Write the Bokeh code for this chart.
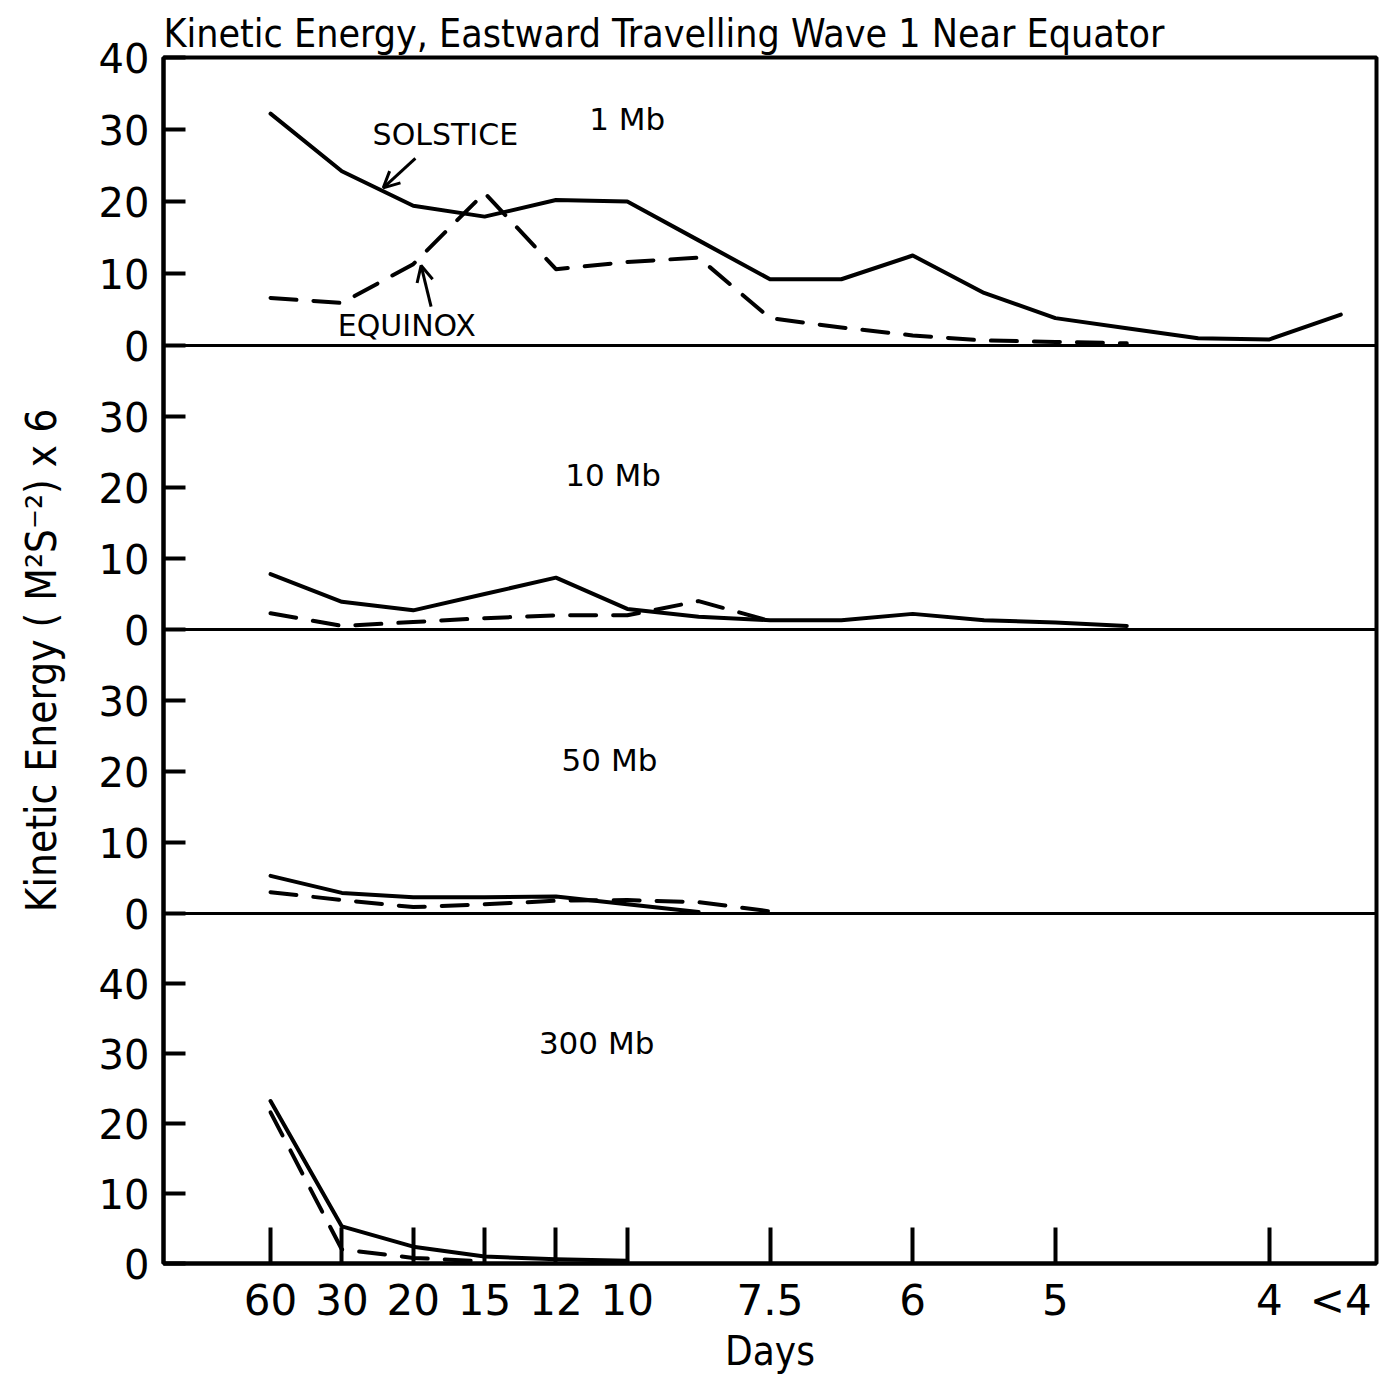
from bokeh.plotting import figure
from bokeh.models import Range1d, LinearAxis, FixedTicker, Span, Label, Arrow, OpenHead, Title
from bokeh.embed import file_html
from bokeh.resources import INLINE

# ---------------- data ----------------
x_ticks = [1, 2, 3, 4, 5, 6, 8, 10, 12, 15, 16]
x_tick_labels = ["60", "30", "20", "15", "12", "10", "7.5", "6", "5", "4", "<4"]
x_tick_marks = [1, 2, 3, 4, 5, 6, 8, 10, 12, 15]

# 1 Mb
x1_sol = list(range(1, 17))
y1_sol = [32.2, 24.2, 19.4, 17.9, 20.2, 20.0, 14.6, 9.2, 9.2, 12.5, 7.3, 3.8, 2.4, 1.0, 0.85, 4.3]
x1_equ = list(range(1, 14))
y1_equ = [6.6, 5.9, 11.3, 21.2, 10.6, 11.6, 12.2, 3.8, 2.5, 1.4, 0.7, 0.5, 0.3]

# 10 Mb
x2_sol = list(range(1, 14))
y2_sol = [7.8, 3.9, 2.7, 5.0, 7.3, 2.9, 1.8, 1.3, 1.3, 2.2, 1.3, 1.0, 0.5]
x2_equ = list(range(1, 9))
y2_equ = [2.3, 0.5, 1.05, 1.6, 2.0, 2.0, 4.0, 1.2]

# 50 Mb
x3_sol = list(range(1, 8))
y3_sol = [5.3, 2.9, 2.3, 2.3, 2.4, 1.3, 0.2]
x3_equ = list(range(1, 9))
y3_equ = [3.0, 1.9, 0.9, 1.3, 1.8, 1.9, 1.6, 0.3]

# 300 Mb
x4_sol = list(range(1, 7))
y4_sol = [23.2, 5.3, 2.4, 1.0, 0.6, 0.4]
x4_equ = list(range(1, 5))
y4_equ = [21.6, 2.0, 0.8, 0.3]

panel_names = ["1 Mb", "10 Mb", "50 Mb", "300 Mb"]
panel_max = [40, 40, 40, 50]
panel_labelled = [[0, 10, 20, 30, 40], [0, 10, 20, 30], [0, 10, 20, 30], [0, 10, 20, 30, 40]]
panel_px = [288, 284, 284, 350]          # frame height of each panel (top to bottom)
panel_label_pos = [(6.0, 31.5), (5.8, 21.8), (5.75, 21.6), (5.57, 31.5)]

series = [
    (x1_sol, y1_sol, x1_equ, y1_equ),
    (x2_sol, y2_sol, x2_equ, y2_equ),
    (x3_sol, y3_sol, x3_equ, y3_equ),
    (x4_sol, y4_sol, x4_equ, y4_equ),
]

# ---------------- layout ----------------
total = sum(panel_px)
bases = []
acc = total
for h in panel_px:
    acc -= h
    bases.append(acc)

TICK_FONT = "DejaVu Sans"
NARROW = "DejaVu Sans Condensed, Liberation Sans Narrow, Liberation Sans"

p = figure(
    x_range=Range1d(-0.5, 16.5), y_range=Range1d(0, total),
    frame_width=1213, frame_height=total,
    min_border_left=163, min_border_right=13, min_border_top=57, min_border_bottom=113,
    toolbar_location=None, output_backend="svg",
    x_axis_type=None, y_axis_type=None,
    background_fill_color="white", border_fill_color="white",
    outline_line_color="black", outline_line_width=4,
)

p.title = Title(text="Kinetic Energy, Eastward Travelling Wave 1 Near Equator",
                align="left", text_font=NARROW, text_font_size="39px",
                text_font_style="normal", text_color="black", standoff=4)

names = []
for k in range(4):
    scale = panel_px[k] / panel_max[k]
    nm = "p%d" % (k + 1)
    names.append(nm)
    p.extra_y_ranges[nm] = Range1d(-bases[k] / scale, (total - bases[k]) / scale)

# y axis: global positions of local tick values
y_pos = []
y_over = {}
for k in range(4):
    scale = panel_px[k] / panel_max[k]
    for v in panel_labelled[k]:
        g = int(round(bases[k] + v * scale))
        if g not in y_over:
            y_pos.append(g)
        y_over[g] = str(v)

yaxis = LinearAxis(
    ticker=FixedTicker(ticks=y_pos, minor_ticks=[]),
    major_label_overrides=y_over,
    major_tick_in=22, major_tick_out=0, major_tick_line_width=4,
    minor_tick_line_color=None,
    axis_line_width=4,
    major_label_standoff=14,
    major_label_text_font=TICK_FONT, major_label_text_font_size="40px",
    major_label_text_color="black",
    axis_label="Kinetic Energy ( M²S⁻²) x 6",
    axis_label_text_font=NARROW, axis_label_text_font_size="42px",
    axis_label_text_font_style="normal", axis_label_text_color="black",
    axis_label_standoff=30,
)
p.add_layout(yaxis, "left")

xaxis = LinearAxis(
    ticker=FixedTicker(ticks=x_ticks, minor_ticks=x_tick_marks),
    major_label_overrides={t: s for t, s in zip(x_ticks, x_tick_labels)},
    major_tick_line_color=None, major_tick_in=0, major_tick_out=0,
    minor_tick_in=36, minor_tick_out=0, minor_tick_line_width=4,
    axis_line_width=4,
    major_label_standoff=12,
    major_label_text_font=TICK_FONT, major_label_text_font_size="42px",
    major_label_text_color="black",
    axis_label="Days",
    axis_label_text_font=NARROW, axis_label_text_font_size="40px",
    axis_label_text_font_style="normal", axis_label_text_color="black",
    axis_label_standoff=0,
)
p.add_layout(xaxis, "below")

# panel separators
for k in range(3):
    p.add_layout(Span(location=0, dimension="width", y_range_name=names[k],
                      line_color="black", line_width=3))

# series
for k in range(4):
    xs, ys, xe, ye = series[k]
    p.line(xs, ys, y_range_name=names[k], line_color="black", line_width=4,
           line_join="round", line_cap="round")
    p.line(xe, ye, y_range_name=names[k], line_color="black", line_width=4,
           line_dash="26 17", line_cap="round", line_join="round")
    lx, ly = panel_label_pos[k]
    p.add_layout(Label(x=lx, y=ly, y_range_name=names[k], text=panel_names[k],
                       text_align="center", text_baseline="middle",
                       text_font=TICK_FONT, text_font_size="31px", text_color="black"))

# annotations in top panel
p.add_layout(Label(x=3.45, y=29.3, y_range_name="p1", text="SOLSTICE",
                   text_align="center", text_baseline="middle",
                   text_font=TICK_FONT, text_font_size="30px", text_color="black"))
p.add_layout(Label(x=2.91, y=2.8, y_range_name="p1", text="EQUINOX",
                   text_align="center", text_baseline="middle",
                   text_font=TICK_FONT, text_font_size="30px", text_color="black"))
p.add_layout(Arrow(x_start=3.03, y_start=26.0, x_end=2.58, y_end=21.9, y_range_name="p1",
                   line_width=3, line_color="black",
                   end=OpenHead(size=16, line_width=3, line_color="black")))
p.add_layout(Arrow(x_start=3.25, y_start=5.4, x_end=3.11, y_end=11.1, y_range_name="p1",
                   line_width=3, line_color="black",
                   end=OpenHead(size=16, line_width=3, line_color="black")))

open("out.html", "w").write(file_html(p, INLINE))
